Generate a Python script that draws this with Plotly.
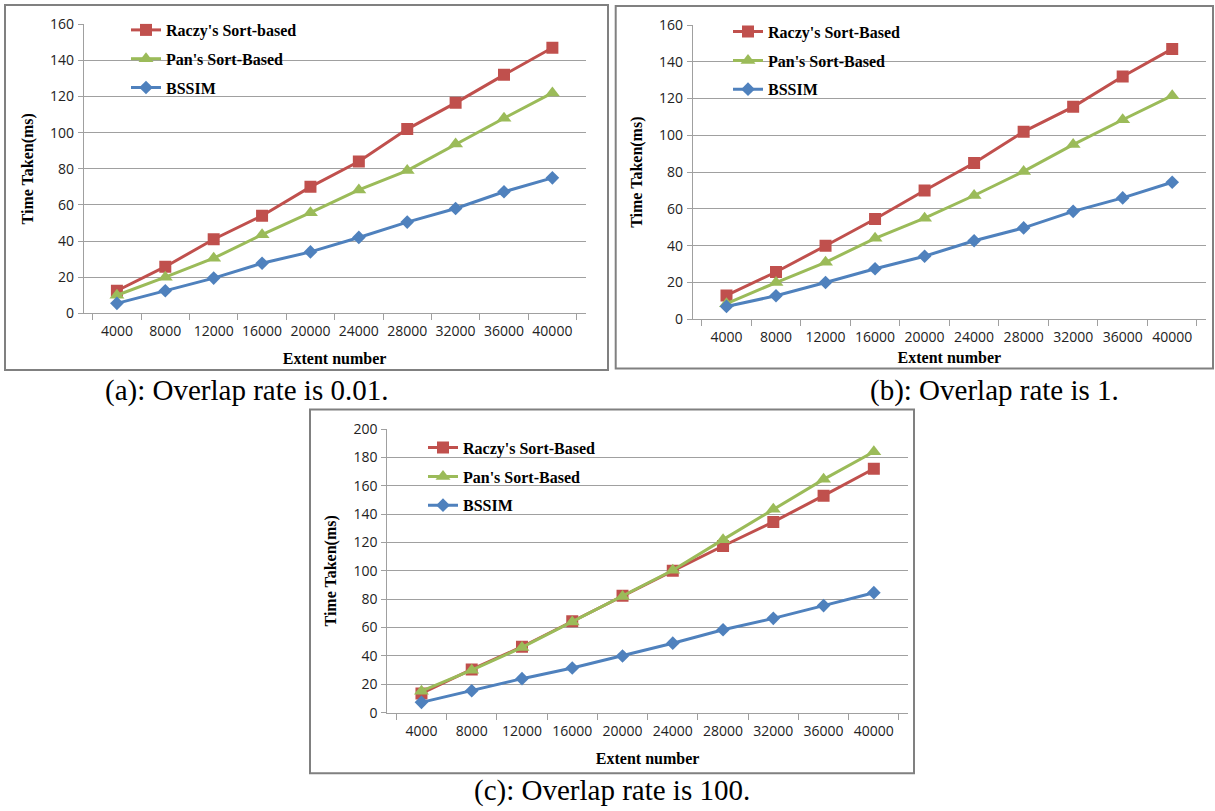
import plotly.graph_objects as go

W, H = 1215, 811

categories = ["4000", "8000", "12000", "16000", "20000",
              "24000", "28000", "32000", "36000", "40000"]

raczy_a = [12.5, 25.8, 41, 54, 70, 84, 102, 116.5, 132, 147]
pan_a = [10, 20, 30.5, 43.5, 55.7, 68.3, 79, 93.7, 108, 122]
bssim_a = [5.5, 12.5, 19.5, 27.7, 34, 42, 50.5, 58, 67.3, 75]

raczy_b = [13, 25.7, 40, 54.5, 70, 85, 102, 115.5, 132, 147]
pan_b = [8.5, 20, 31, 44, 55, 67.3, 80.4, 95, 108.5, 121.6]
bssim_b = [7, 12.8, 20, 27.5, 34.3, 42.7, 49.7, 58.7, 66, 74.5]

raczy_c = [13.6, 30.5, 46.5, 64.5, 82.5, 100, 117.5, 134.5, 153, 172]
pan_c = [15.2, 30, 46, 64, 82, 100.4, 122, 143.5, 164.5, 184]
bssim_c = [7.3, 15.5, 24, 31.5, 40, 49, 58.5, 66.5, 75.5, 84.6]

raczy_names = ["Raczy's Sort-based", "Raczy's Sort-Based", "Raczy's Sort-Based"]
pan_name = "Pan's Sort-Based"
bssim_name = "BSSIM"
captions = ["(a): Overlap rate is 0.01.", "(b): Overlap rate is 1.", "(c): Overlap rate is 100."]
y_max = [160, 160, 200]

RED, GREEN, BLUE = "#C0504D", "#9BBB59", "#4F81BD"
GRID = "#A0A0A0"
TICKFONT = dict(family="Open Sans, Liberation Sans, sans-serif", size=14, color="#222222")
BOLDSERIF = dict(family="Liberation Serif, Times New Roman, serif", size=16, color="#000000")

# pixel geometry of each panel: plot area (left, right, top, bottom)
panels = [
    dict(pl=83.7, pr=585.6, pt=24.3, pb=313.3, box=(5, 608, 5, 370), leg=(165, 30), cap=(246.5, 390)),
    dict(pl=692.7, pr=1206, pt=25.0, pb=319.3, box=(615.7, 1213, 6, 368.5), leg=(767, 31.7), cap=(994, 390)),
    dict(pl=387.3, pr=908, pt=429.0, pb=712.7, box=(310, 914, 409.5, 773.3), leg=(462, 447.7), cap=(612, 790)),
]
xtitle_standoff = [13, 6, 14]

series = [
    (raczy_a, pan_a, bssim_a),
    (raczy_b, pan_b, bssim_b),
    (raczy_c, pan_c, bssim_c),
]

fig = go.Figure()
layout = dict(
    width=W, height=H,
    margin=dict(l=0, r=0, t=0, b=0, pad=0, autoexpand=False),
    paper_bgcolor="white", plot_bgcolor="white",
    shapes=[], annotations=[],
)

for i, (p, (r, g, b)) in enumerate(zip(panels, series)):
    sfx = "" if i == 0 else str(i + 1)
    xa, ya = "x" + sfx, "y" + sfx
    leg = "legend" + sfx
    common = dict(x=categories, xaxis=xa, yaxis=ya, legend=leg, mode="lines+markers")
    fig.add_trace(go.Scatter(y=r, name=raczy_names[i], legendgroup=f"r{i}",
                             line=dict(color=RED, width=3),
                             marker=dict(symbol="square", size=12, color=RED), **common))
    fig.add_trace(go.Scatter(y=g, name=pan_name, legendgroup=f"g{i}",
                             line=dict(color=GREEN, width=3),
                             marker=dict(symbol="triangle-up", size=13, color=GREEN), **common))
    fig.add_trace(go.Scatter(y=b, name=bssim_name, legendgroup=f"b{i}",
                             line=dict(color=BLUE, width=3),
                             marker=dict(symbol="diamond", size=10.5, color=BLUE), **common))

    xdom = [p["pl"] / W, p["pr"] / W]
    ydom = [1 - p["pb"] / H, 1 - p["pt"] / H]
    layout["xaxis" + sfx] = dict(
        domain=xdom, anchor=ya, type="category", tickson="boundaries",
        showgrid=False, showline=True, linecolor=GRID, linewidth=1,
        ticks="outside", ticklen=6, tickcolor=GRID, tickfont=TICKFONT,
        tickangle=0, ticklabelstandoff=5, fixedrange=True, automargin=False,
        title=dict(text="<b>Extent number</b>", font=BOLDSERIF, standoff=xtitle_standoff[i]),
    )
    layout["yaxis" + sfx] = dict(
        domain=ydom, anchor=xa, range=[0, y_max[i]], dtick=20,
        showgrid=True, gridcolor=GRID, gridwidth=1,
        showline=True, linecolor=GRID, linewidth=1, zeroline=False,
        ticks="outside", ticklen=5, tickcolor=GRID, tickfont=TICKFONT,
        ticklabelstandoff=1, fixedrange=True, automargin=False,
        title=dict(text="<b>Time Taken(ms)</b>", font=BOLDSERIF, standoff=12),
    )
    lx, ly = p["leg"]
    layout[leg] = dict(
        x=(lx - 39) / W, y=1 - (ly - 17) / H, xanchor="left", yanchor="top",
        xref="paper", yref="paper",
        bgcolor="rgba(0,0,0,0)", borderwidth=0, font=BOLDSERIF,
        tracegroupgap=5, traceorder="grouped",
    )
    bx0, bx1, by0, by1 = p["box"]
    layout["shapes"].append(dict(
        type="rect", xref="paper", yref="paper",
        x0=bx0 / W, x1=bx1 / W, y0=1 - by1 / H, y1=1 - by0 / H,
        line=dict(color="#808080", width=2), fillcolor="rgba(0,0,0,0)", layer="below",
    ))
    cx, cy = p["cap"]
    layout["annotations"].append(dict(
        text=captions[i], xref="paper", yref="paper", x=cx / W, y=1 - cy / H,
        xanchor="center", yanchor="middle", showarrow=False,
        font=dict(family="Liberation Serif, Times New Roman, serif", size=29, color="#000000"),
    ))

# legend text labels in bold
for tr in fig.data:
    tr.name = "<b>" + tr.name + "</b>"

fig.update_layout(**layout)
fig.write_html(
    "out.html",
    config={"displayModeBar": False},
    post_script="document.body.style.margin='0';document.body.style.overflow='hidden';",
)
